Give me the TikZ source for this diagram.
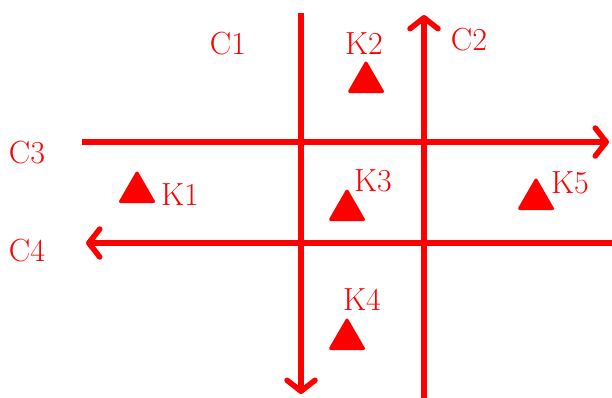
\documentclass[tikz,border=0pt]{standalone}
\usetikzlibrary{arrows.meta,shapes.geometric}
\begin{document}
\begin{tikzpicture}[x=1pt,y=-1pt,
  route/.style={draw=red,line width=5.5pt,-{Straight Barb[length=11pt,width=28pt,line cap=round,line join=round]}},
  lbl/.style={text=red,font=\fontsize{32}{36}\selectfont,inner sep=0pt},
  tri/.style={regular polygon,regular polygon sides=3,fill=red,draw=red,line width=3pt,line join=round,minimum size=38pt,inner sep=0pt}]
\useasboundingbox (0,0) rectangle (612,397);
% roads
\coordinate (c1s) at (301,13);
\coordinate (c1e) at (301,394);
\coordinate (c2s) at (424,400);
\coordinate (c2e) at (424,15);
\coordinate (c3s) at (82,142);
\coordinate (c3e) at (609,142);
\coordinate (c4s) at (615,243);
\coordinate (c4e) at (86,243);
\draw[route] (c1s) -- (c1e);
\draw[route] (c2s) -- (c2e);
\draw[route] (c3s) -- (c3e);
\draw[route] (c4s) -- (c4e);
% labels
\node[lbl] (C1) at (228,44) {C1};
\node[lbl] (C2) at (469,40) {C2};
\node[lbl] (C3) at (27,153) {C3};
\node[lbl] (C4) at (27,251) {C4};
% markers
\node[tri] (k1) at (137,192) {};
\node[tri] (k2) at (366,82) {};
\node[tri] (k3) at (347,210) {};
\node[tri] (k4) at (347,339) {};
\node[tri] (k5) at (536,199) {};
\node[lbl] (K1) at (180,195) {K1};
\node[lbl] (K2) at (364,44) {K2};
\node[lbl] (K3) at (373,181) {K3};
\node[lbl] (K4) at (362,300) {K4};
\node[lbl] (K5) at (570,183) {K5};
\end{tikzpicture}
\end{document}
